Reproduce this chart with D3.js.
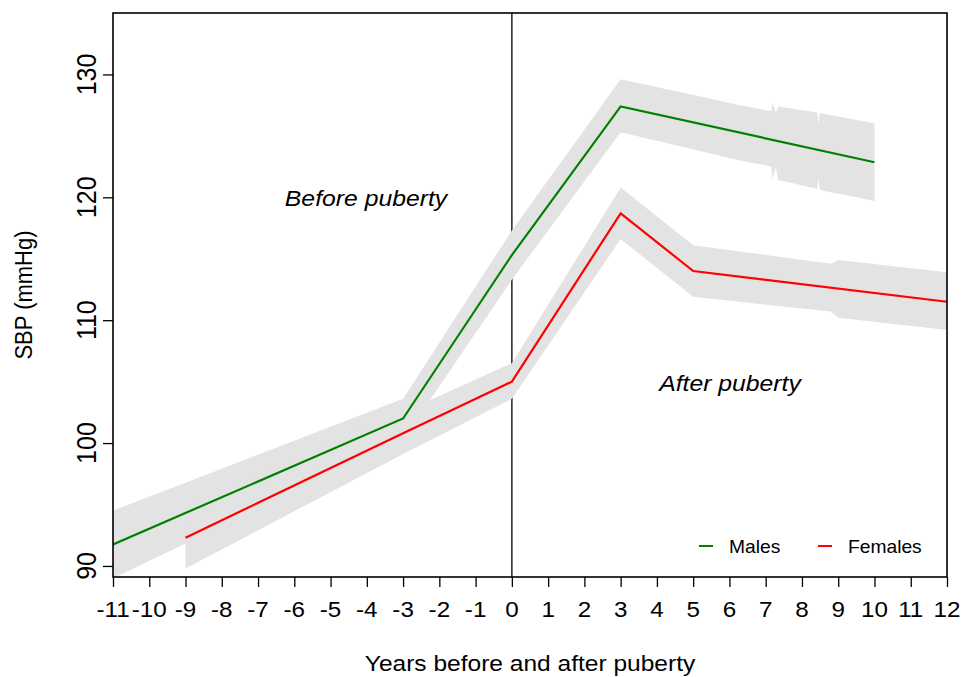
<!DOCTYPE html>
<html>
<head>
<meta charset="utf-8">
<script src="https://cdn.jsdelivr.net/npm/d3@7"></script>
<style>
  body { margin: 0; background: #fff; }
  text { font-family: "Liberation Sans", Arial, sans-serif; fill: #000; }
</style>
</head>
<body>
<svg id="chart" width="963" height="677"></svg>
<script>
// data
const xTicks = d3.range(-11, 13);
const yTicks = [90, 100, 110, 120, 130];

// fitted lines (knots)
const maleX = [-11, -3, 0, 3, 10];
const maleY = [91.75, 102, 115.3, 127.4, 122.85];
const femaleX = [-9, -3, 0, 3, 5, 12];
const femaleY = [92.3, 100.8, 105.0, 118.7, 114.0, 111.5];

// confidence bands
const maleBandX = [-11, -3, 0, 3, 6.3, 7.16, 7.18, 7.28, 7.35, 8.42, 8.45, 8.5, 10];
const maleBandLo = [89.0, 100.3, 113.3, 125.3, 123.0, 122.5, 121.5, 122.4, 121.4, 120.7, 121.5, 120.6, 119.7];
const maleBandHi = [94.5, 103.6, 117.3, 129.6, 127.5, 127.0, 127.7, 126.9, 127.4, 126.9, 126.0, 126.86, 126.0];
const femaleBandX = [-9, -3, 0, 3, 5, 8.8, 9.0, 12];
const femaleBandLo = [89.8, 99.1, 103.6, 116.6, 111.9, 110.7, 110.2, 109.2];
const femaleBandHi = [94.8, 102.5, 106.5, 120.8, 116.1, 114.6, 114.9, 113.9];

const series = [
    { name: 'Males', color: '#008000', xs: maleX, ys: maleY },
    { name: 'Females', color: '#ff0000', xs: femaleX, ys: femaleY }
];
const bands = [
    { xs: maleBandX, lo: maleBandLo, hi: maleBandHi },
    { xs: femaleBandX, lo: femaleBandLo, hi: femaleBandHi }
];

// layout
const plotL = 113, plotR = 947, plotT = 13, plotB = 577;
const sx = 1.1; // glyphs in the reference are a little wide

const svg = d3.select('#chart');

const x = d3.scaleLinear().domain([-11, 12]).range([plotL, plotR]);
const y = d3.scaleLinear().domain([89.1, 135]).range([plotB, plotT]);

svg.append('defs').append('clipPath').attr('id', 'plotClip')
    .append('rect')
    .attr('x', plotL).attr('y', plotT)
    .attr('width', plotR - plotL).attr('height', plotB - plotT);

const plot = svg.append('g').attr('clip-path', 'url(#plotClip)');

// puberty line
plot.append('line')
    .attr('x1', x(0)).attr('x2', x(0))
    .attr('y1', plotT).attr('y2', plotB)
    .attr('stroke', '#222').attr('stroke-width', 1.5);

// bands
const area = d3.area()
    .x(d => x(d[0]))
    .y0(d => y(d[1]))
    .y1(d => y(d[2]));

bands.forEach(b => {
    plot.append('path')
        .datum(b.xs.map((v, i) => [v, b.lo[i], b.hi[i]]))
        .attr('d', area)
        .attr('fill', '#e3e3e3');
});

// lines
const line = d3.line().x(d => x(d[0])).y(d => y(d[1]));
series.forEach(s => {
    plot.append('path')
        .datum(s.xs.map((v, i) => [v, s.ys[i]]))
        .attr('d', line)
        .attr('fill', 'none')
        .attr('stroke', s.color)
        .attr('stroke-width', 2.2);
});

// axes
const xAxis = svg.append('g')
    .attr('transform', 'translate(0,' + plotB + ')')
    .call(d3.axisBottom(x).tickValues(xTicks).tickSize(10).tickFormat(''));
const yAxis = svg.append('g')
    .attr('transform', 'translate(' + plotL + ',0)')
    .call(d3.axisLeft(y).tickValues(yTicks).tickSize(10).tickFormat(''));
[xAxis, yAxis].forEach(a => {
    a.select('.domain').remove();
    a.selectAll('line').attr('stroke', '#000').attr('stroke-width', 1.3);
});

// x tick labels
svg.append('g').selectAll('text')
    .data(xTicks)
    .join('text')
    .attr('transform', d => 'translate(' + x(d) + ',617) scale(' + sx + ',1)')
    .attr('text-anchor', 'middle')
    .style('font-size', '22px')
    .text(d => d);

// y tick labels
svg.append('g').selectAll('text')
    .data(yTicks)
    .join('text')
    .attr('transform', d => 'translate(96,' + y(d) + ') rotate(-90) scale(1,' + sx + ')')
    .attr('text-anchor', 'middle')
    .style('font-size', '25px')
    .text(d => d);

// box
svg.append('rect')
    .attr('x', plotL).attr('y', plotT)
    .attr('width', plotR - plotL).attr('height', plotB - plotT)
    .attr('fill', 'none').attr('stroke', '#000').attr('stroke-width', 1.6);

// titles
svg.append('text')
    .attr('transform', 'translate(' + (plotL + plotR) / 2 + ',671) scale(' + sx + ',1)')
    .attr('text-anchor', 'middle')
    .style('font-size', '22.3px')
    .text('Years before and after puberty');

svg.append('text')
    .attr('transform', 'translate(32,' + (plotT + plotB) / 2 + ') rotate(-90) scale(1,' + sx + ')')
    .attr('text-anchor', 'middle')
    .style('font-size', '22px')
    .text('SBP (mmHg)');

// annotations
svg.append('text')
    .attr('transform', 'translate(366,206) scale(' + sx + ',1)')
    .attr('text-anchor', 'middle')
    .style('font-size', '22.5px').style('font-style', 'italic')
    .text('Before puberty');
svg.append('text')
    .attr('transform', 'translate(730,391) scale(' + sx + ',1)')
    .attr('text-anchor', 'middle')
    .style('font-size', '22.5px').style('font-style', 'italic')
    .text('After puberty');

// legend
const legendX = [699, 818];
series.forEach((s, i) => {
    svg.append('line')
        .attr('x1', legendX[i]).attr('x2', legendX[i] + 14)
        .attr('y1', 546).attr('y2', 546)
        .attr('stroke', s.color).attr('stroke-width', 2);
    svg.append('text')
        .attr('transform', 'translate(' + (legendX[i] + 30) + ',552.5) scale(' + sx + ',1)')
        .style('font-size', '17.5px')
        .text(s.name);
});
</script>
</body>
</html>
